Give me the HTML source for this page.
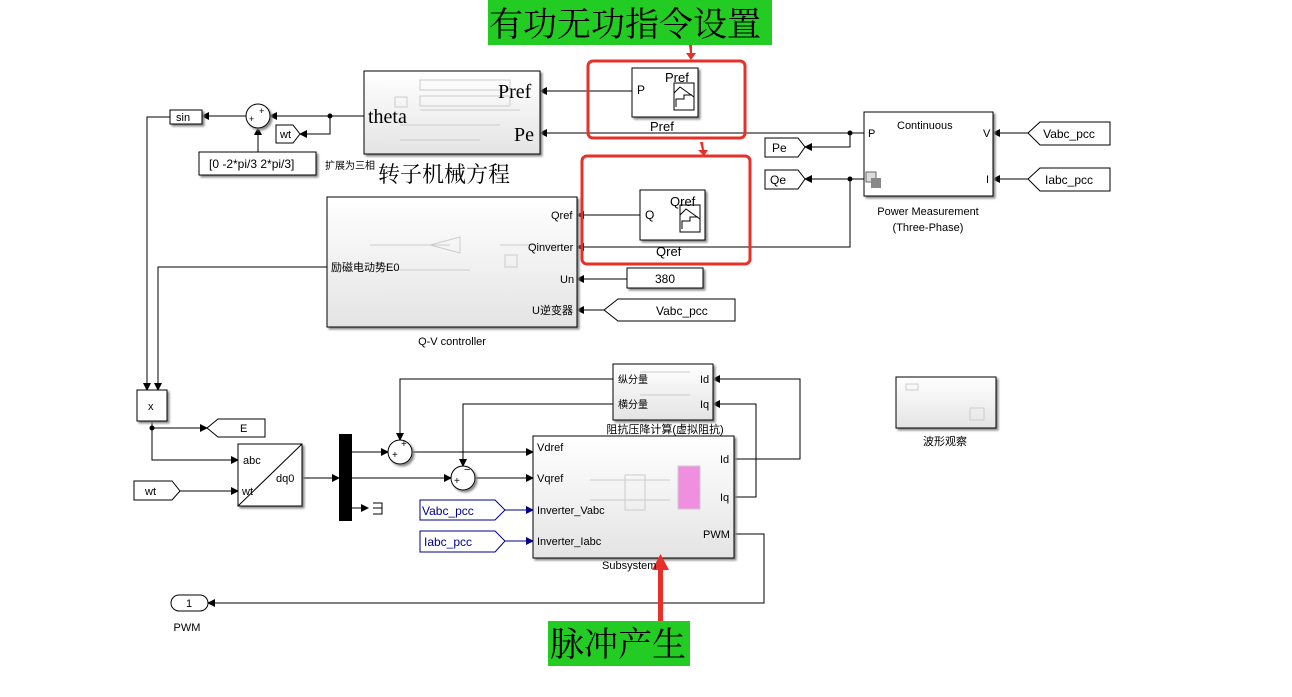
<!DOCTYPE html>
<html><head><meta charset="utf-8"><style>
body{margin:0;background:#fff}
svg{display:block;font-family:"Liberation Sans","Noto Sans CJK SC",sans-serif}
</style></head><body>
<svg width="1292" height="697" viewBox="0 0 1292 697" xmlns="http://www.w3.org/2000/svg">
<defs>
<marker id="a" markerWidth="8" markerHeight="8" refX="7" refY="4" orient="auto" markerUnits="userSpaceOnUse"><path d="M0,0L8,4L0,8z" fill="#000"/></marker>
<marker id="b" markerWidth="8" markerHeight="8" refX="7" refY="4" orient="auto" markerUnits="userSpaceOnUse"><path d="M0,0L8,4L0,8z" fill="#00008b"/></marker>
<linearGradient id="g" x1="0" y1="0" x2="0" y2="1"><stop offset="0" stop-color="#fff"/><stop offset="1" stop-color="#e4e4e4"/></linearGradient>
<filter id="s"><feDropShadow dx="2" dy="2" stdDeviation="1" flood-color="#888"/></filter>
</defs>
<g fill="none" stroke="#000" stroke-width="1">
<path d="M632,91H540" marker-end="url(#a)"/>
<path d="M864,133H540" marker-end="url(#a)"/>
<path d="M850,133V147H805" marker-end="url(#a)"/>
<path d="M864,179H805" marker-end="url(#a)"/>
<path d="M850,179V247H577" marker-end="url(#a)"/>
<path d="M640,215H577" marker-end="url(#a)"/>
<path d="M627,279H577" marker-end="url(#a)"/>
<path d="M604,310H577" marker-end="url(#a)"/>
<path d="M1028,133H993" marker-end="url(#a)"/>
<path d="M1028,179H993" marker-end="url(#a)"/>
<path d="M364,116H270" marker-end="url(#a)"/>
<path d="M330,116V134H300" marker-end="url(#a)"/>
<path d="M258,152V128" marker-end="url(#a)"/>
<path d="M246,116H202" marker-end="url(#a)"/>
<path d="M170,117H147V390" marker-end="url(#a)"/>
<path d="M327,267H158V390" marker-end="url(#a)"/>
<path d="M152,421V460H238" marker-end="url(#a)"/>
<path d="M152,428H207" marker-end="url(#a)"/>
<path d="M180,491H238" marker-end="url(#a)"/>
<path d="M302,478H339" marker-end="url(#a)"/>
<path d="M352,452H388" marker-end="url(#a)"/>
<path d="M352,478H451" marker-end="url(#a)"/>
<path d="M352,508H368" marker-end="url(#a)"/>
<path d="M412,452H533" marker-end="url(#a)"/>
<path d="M475,478H533" marker-end="url(#a)"/>
<path d="M613,379H400V440" marker-end="url(#a)"/>
<path d="M613,404H463V466" marker-end="url(#a)"/>
<path d="M734,459H800V379H713" marker-end="url(#a)"/>
<path d="M734,497H756V404H713" marker-end="url(#a)"/>
<path d="M734,534H764V603H208" marker-end="url(#a)"/>
</g>
<g stroke="#00008b" fill="none"><path d="M505,510H533" marker-end="url(#b)"/><path d="M505,541H533" marker-end="url(#b)"/></g>
<g fill="#000"><circle cx="330" cy="116" r="2.5"/><circle cx="850" cy="133" r="2.5"/><circle cx="850" cy="179" r="2.5"/><circle cx="152" cy="428" r="2.5"/></g>

<g stroke="#000" fill="url(#g)" filter="url(#s)">
<rect x="364" y="71" width="176" height="83"/>
<rect x="327" y="197" width="250" height="130"/>
<rect x="613" y="364" width="100" height="56"/>
<rect x="533" y="436" width="201" height="122"/>
<rect x="896" y="377" width="100" height="51"/>
</g>
<g stroke="#000" fill="#fff" filter="url(#s)">
<rect x="632" y="68" width="66" height="49"/>
<rect x="640" y="190" width="65" height="50"/>
<rect x="864" y="112" width="129" height="84"/>
<rect x="627" y="268" width="76" height="20"/>
<rect x="170" y="110" width="32" height="14"/>
<rect x="199" y="152" width="117" height="23"/>
<rect x="137" y="390" width="30" height="31"/>
<rect x="238" y="444" width="64" height="62"/>
<circle cx="258" cy="116" r="12"/>
<circle cx="400" cy="452" r="12"/>
<circle cx="463" cy="478" r="12"/>
</g>
<g stroke="#000" fill="none">
<rect x="674" y="83" width="20" height="27"/><path d="M674,93l6,-6l14,10M676,107v-8h8v-4h8"/>
<rect x="680" y="205" width="20" height="27"/><path d="M680,215l6,-6l14,10M682,229v-8h8v-4h8"/>
</g>
<rect x="866" y="172" width="10" height="10" fill="#ddd" stroke="#666"/><rect x="871" y="178" width="10" height="10" fill="#888"/>
<path d="M238,506L302,444" stroke="#000"/>
<rect x="339" y="434" width="13" height="87" fill="#000"/>
<path d="M373,503H382V514H373M373,508H382" stroke="#000" fill="none"/>
<rect x="678" y="466" width="22" height="43" fill="#f08ee0" stroke="#ccc"/>
<g stroke="#ccc" fill="none">
<rect x="420" y="80" width="90" height="10"/><rect x="420" y="96" width="90" height="10"/><rect x="395" y="97" width="12" height="10"/>
<path d="M400,125H500M400,140H480M420,110H520"/>
<path d="M370,245H450M430,245L460,237V253Z M500,245H560M380,270H470"/>
<rect x="505" y="255" width="12" height="12"/>
<path d="M590,480H670M590,500H670M625,475h20v35h-20z"/>
<rect x="906" y="384" width="12" height="6"/><rect x="970" y="408" width="14" height="12"/>
<path d="M640,372h50M640,395h50"/>
</g>
<g stroke="#000" fill="#fff">
<path d="M276,125H293L300,134L293,143H276Z"/>
<path d="M765,138H798L805,147L798,157H765Z"/>
<path d="M765,170H798L805,179L798,189H765Z"/>
<path d="M1110,122H1040L1028,133L1040,145H1110Z"/>
<path d="M1110,168H1040L1028,179L1040,191H1110Z"/>
<path d="M735,299H618L604,310L618,321H735Z"/>
<path d="M207,428L218,419H265V437H218Z"/>
<path d="M134,481H172L180,491L172,500H134Z"/>
<rect x="171" y="595" width="37" height="16" rx="8"/>
</g>
<g stroke="#00008b" fill="#fff">
<path d="M420,500H495L505,510L495,520H420Z"/>
<path d="M420,531H495L505,541L495,552H420Z"/>
</g>
<g stroke="#e8302a" stroke-width="3" fill="none">
<rect x="588" y="61" width="157" height="77" rx="5"/>
<rect x="582" y="156" width="168" height="108" rx="5"/>
</g>
<g fill="#e8302a">
<path d="M689,45h3v8h4l-5,7l-5,-7h4z"/>
<path d="M700,142l3,0l1,8h4l-4,6l-6,-6h4z"/>
<path d="M658,622h5v-52h6l-8.5,-16l-8.5,16h6z"/>
</g>
<rect x="488" y="0" width="284" height="45" fill="#22cc22"/>
<rect x="548" y="621" width="142" height="45" fill="#22cc22"/>
<g font-family="'Noto Serif CJK SC',serif" font-size="34" fill="#000">
<text x="489" y="36">有功无功指令设置</text>
<text x="550" y="656">脉冲产生</text>
</g>
<g font-family="'Liberation Serif',serif" font-size="20" fill="#000">
<text x="498" y="98">Pref</text><text x="368" y="123">theta</text><text x="514" y="141">Pe</text>
</g>
<text x="378" y="182" font-family="'Noto Serif CJK SC',serif" font-size="22">转子机械方程</text>
<g font-size="12" fill="#000">
<text x="637" y="94">P</text><text x="665" y="82" font-size="13">Pref</text><text x="650" y="131" font-size="13">Pref</text>
<text x="645" y="219">Q</text><text x="670" y="206" font-size="13">Qref</text><text x="656" y="256" font-size="13">Qref</text>
<text x="897" y="129" font-size="11">Continuous</text><text x="868" y="137" font-size="11">P</text><text x="983" y="137" font-size="11">V</text><text x="986" y="183" font-size="11">I</text>
<text x="928" y="215" font-size="11" text-anchor="middle">Power Measurement</text><text x="928" y="231" font-size="11" text-anchor="middle">(Three-Phase)</text>
<text x="1069" y="138" font-size="12" text-anchor="middle">Vabc_pcc</text><text x="1069" y="184" font-size="12" text-anchor="middle">Iabc_pcc</text>
<text x="772" y="152">Pe</text><text x="770" y="184">Qe</text>
<text x="551" y="219" font-size="11">Qref</text><text x="528" y="251" font-size="11">Qinverter</text><text x="560" y="283" font-size="11">Un</text><text x="532" y="314" font-size="11">U逆变器</text><text x="331" y="271" font-size="11">励磁电动势E0</text>
<text x="452" y="345" font-size="11" text-anchor="middle">Q-V controller</text>
<text x="665" y="283" text-anchor="middle">380</text><text x="656" y="315">Vabc_pcc</text>
<text x="176" y="121" font-size="11">sin</text><text x="280" y="138" font-size="11">wt</text>
<text x="209" y="168" font-size="12">[0 -2*pi/3 2*pi/3]</text><text x="325" y="169" font-size="10">扩展为三相</text>
<text x="249" y="122" font-size="9">+</text><text x="259" y="114" font-size="9">+</text>
<text x="148" y="410" font-size="11">x</text><text x="240" y="432" font-size="11">E</text>
<text x="243" y="464" font-size="11">abc</text><text x="242" y="495" font-size="11">wt</text><text x="276" y="482" font-size="11">dq0</text>
<text x="145" y="495" font-size="11">wt</text>
<text x="392" y="458" font-size="10">+</text><text x="401" y="447" font-size="10">+</text>
<text x="454" y="484" font-size="10">+</text><text x="464" y="473" font-size="11">−</text>
<text x="618" y="383" font-size="10">纵分量</text><text x="618" y="408" font-size="10">横分量</text><text x="700" y="383" font-size="11">Id</text><text x="700" y="408" font-size="11">Iq</text>
<text x="665" y="433" font-size="11" text-anchor="middle">阻抗压降计算(虚拟阻抗)</text>
<text x="537" y="451" font-size="11">Vdref</text><text x="537" y="482" font-size="11">Vqref</text><text x="537" y="514" font-size="11">Inverter_Vabc</text><text x="537" y="545" font-size="11">Inverter_Iabc</text>
<text x="720" y="463" font-size="11">Id</text><text x="720" y="501" font-size="11">Iq</text><text x="703" y="538" font-size="11">PWM</text>
<text x="602" y="569" font-size="11">Subsystem</text>
<text x="422" y="515" fill="#00008b">Vabc_pcc</text><text x="424" y="546" fill="#00008b">Iabc_pcc</text>
<text x="186" y="607" font-size="11">1</text><text x="187" y="631" font-size="11" text-anchor="middle">PWM</text>
<text x="945" y="445" font-size="11" text-anchor="middle">波形观察</text>
</g>
</svg>
</body></html>
